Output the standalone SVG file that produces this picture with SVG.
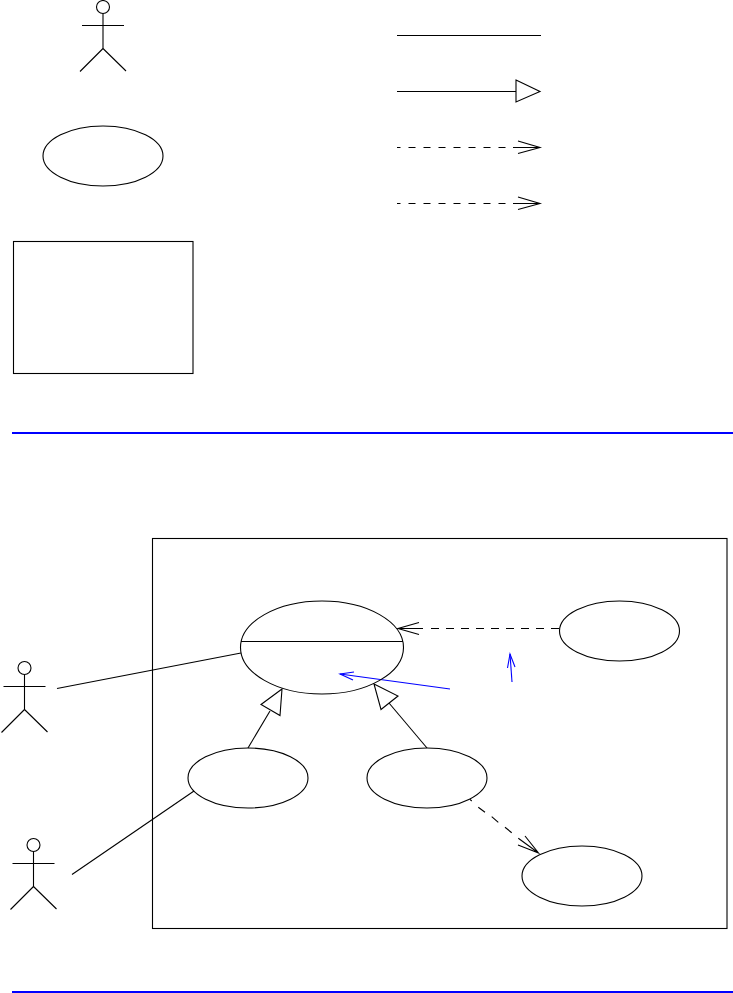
<svg xmlns="http://www.w3.org/2000/svg" width="733" height="993" viewBox="0 0 733 993">
<style>
.s{fill:none;stroke:#000;stroke-width:1.1}
.n{fill:#fff;stroke:#000;stroke-width:1.1}
.b{fill:none;stroke:#0000ff;stroke-width:1.1}
.r{fill:none;stroke:#0000ff;stroke-width:2}
.d1{stroke-dasharray:7 8;stroke-dashoffset:3.500}
.d2{stroke-dasharray:8 7}
</style>
<defs>
<g id="actor" class="s">
<circle cx="0" cy="7" r="6.500"/>
<path d="M0 13.500V48.500M-21 25.500H21M0 48.500L-23 71.500M0 48.500L23 71"/>
</g>
</defs>
<rect width="733" height="993" fill="#fff"/>
<g id="connectors">
<path class="s" d="M397 35.500H541"/>
<path class="s" d="M397 91.500H516"/>
<path class="s d1" d="M397 147.500H511"/>
<path class="s" d="M513 147.500H540M518 141L540 147.500L518 153.500"/>
<path class="s d1" d="M397 203.500H511"/>
<path class="s" d="M513 203.500H540M518 197L540 203.500L518 209.500"/>
<path class="s" d="M57 688.500L241 653"/>
<path class="s" d="M72 874.500L194 791"/>
<path class="s" d="M248 748L270 711"/>
<path class="s" d="M427 748L389 703"/>
<path class="s d2" d="M431 628.500H559"/>
<path class="s" d="M398 628.500H423M419 622.500L398 628.500L419 634.500"/>
<path class="s" d="M470 799.300L471.700 801M478.300 807.300L485 812.300M491.700 816.700L498.300 822.300M505 827.300L511.700 832.700M518.300 838.300L538.500 853M525 836L538.500 853L518 845"/>
<path class="b" d="M450 689L340 674"/>
<path class="b" d="M354 672L340 674L353 680"/>
<path class="b" d="M512 682L510 654"/>
<path class="b" d="M507.500 668L510 654L515 667"/>
</g>
<g id="legend-actor" transform="translate(103 0)"><use href="#actor"/></g>
<g id="legend-usecase"><ellipse class="n" cx="103" cy="156" rx="60" ry="30"/></g>
<g id="legend-system"><rect class="n" x="13.500" y="241.500" width="179.500" height="132"/></g>
<g id="legend-generalization-head"><path class="n" d="M516 80L540 91.500L516 102Z"/></g>
<g id="separator-1"><path class="r" d="M12 433H733"/></g>
<g id="system"><rect class="s" x="152.500" y="538.500" width="574.500" height="390"/></g>
<g id="usecase-main"><ellipse class="s" cx="322" cy="647.500" rx="81.500" ry="46.500"/><path class="s" d="M241 641.500H403"/></g>
<g id="usecase-left"><ellipse class="s" cx="248" cy="778" rx="60" ry="30"/></g>
<g id="usecase-middle"><ellipse class="s" cx="427" cy="778" rx="60" ry="30"/></g>
<g id="usecase-right"><ellipse class="s" cx="619.500" cy="631" rx="60" ry="30"/></g>
<g id="usecase-bottom"><ellipse class="s" cx="582" cy="876" rx="60" ry="30"/></g>
<g id="head-left"><path class="n" d="M282 689L261 704.500L280 715.500Z"/></g>
<g id="head-middle"><path class="n" d="M374 684L398 696L381 709.500Z"/></g>
<g id="actor-upper" transform="translate(24.500 661)"><use href="#actor"/></g>
<g id="actor-lower" transform="translate(33.500 838)"><use href="#actor"/></g>
<g id="separator-2"><path class="r" d="M12 992H733"/></g>
</svg>
